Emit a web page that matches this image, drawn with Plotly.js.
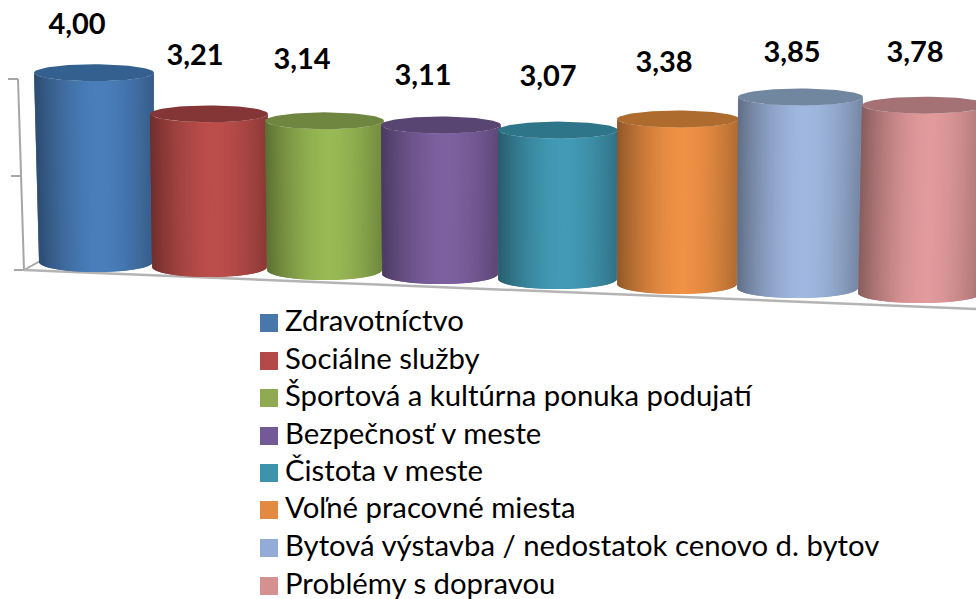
<!DOCTYPE html>
<html><head><meta charset="utf-8">
<script src="https://cdn.plot.ly/plotly-3.0.1.min.js"></script>
<style>html,body{margin:0;padding:0;background:#fff;overflow:hidden}</style>
</head><body><div id="chart" style="width:976px;height:599px"></div>
<script>
const categories = ["Zdravotníctvo","Sociálne služby","Športová a kultúrna ponuka podujatí","Bezpečnosť v meste","Čistota v meste","Voľné pracovné miesta","Bytová výstavba / nedostatok cenovo d. bytov","Problémy s dopravou"];
const values = [4.00,3.21,3.14,3.11,3.07,3.38,3.85,3.78];
const bodyColors = [[74,126,187],[188,77,74],[152,185,84],[125,96,160],[66,155,182],[240,145,68],[160,184,224],[226,154,156]];
const capColors = ["#33608f","#843535","#6e8640","#594571","#2f7589","#ad6b2d","#71869f","#a47274"];
const swatchColors = ["#4777ab","#b34a47","#8faa52","#735a96","#3d93ab","#e28a42","#92acd7","#d5918f"];

// perspective geometry (pixels on the 976x599 page)
const topLeft = [34,150,265,381,498,617,738,862];
const topRight = [154,268,384,501,618,739,863,988];
const botLeft = [39,152,267,382,498,617,737,858];
const botRight = [153,267,382,498,617,737,858,982];
const baseMid = [262,267,270,274,279,284,288,293];
const unitPx = [47.3,47.7,47.5,47.9,48.5,48.8,49.6,49.7];
const labelX = [77,195,302,423,548,664,792,915];
const labelY = [27,58,62,78,79,65,55,55];
const legendY = [323,361,398,436,473,510,548,586];

const PX = 48, ZERO = 262;
const Y = p => (ZERO - p) / PX;
const STRIPS = 60, CAP_RY = 8.5, BASE_RY = 10;

function shade(t){
  const d = t - 0.08;
  return d < 0 ? 1 - 0.40 * Math.pow(-d / 1.08, 1.7) : 1 - 0.27 * Math.pow(d / 0.92, 1.7);
}
const rgb = (c,k) => `rgb(${c.map(v => Math.round(v * k)).join(",")})`;

const traces = [];
const axisColor = "#a6a6a6";
function line(xs, ys, w, col){
  traces.push({type:"scatter",mode:"lines",x:xs,y:ys.map(Y),line:{color:col||axisColor,width:w||2},hoverinfo:"skip",showlegend:false});
}
line([18,24],[79,270]);
line([8,18],[79,79]);
line([11,22],[176,176]);
line([14,24],[270,270]);
line([24,42],[270,260]);
line([24,976],[270,309],2.5,"#b4b4b4");

values.forEach((v,i) => {
  const topMid = baseMid[i] - v * unitPx[i];
  const cT = (topLeft[i]+topRight[i])/2, hT = (topRight[i]-topLeft[i])/2;
  const cB = (botLeft[i]+botRight[i])/2, hB = (botRight[i]-botLeft[i])/2;
  for (let s=0; s<STRIPS; s++){
    // each strip runs on under the next one, so no seams show between them
    const t1 = -Math.cos(Math.PI*s/STRIPS), mid = -Math.cos(Math.PI*(s+0.5)/STRIPS), t2 = -Math.cos(Math.PI*Math.min(s+2,STRIPS)/STRIPS);
    const a1 = Math.sqrt(Math.max(0,1-t1*t1)), a2 = Math.sqrt(Math.max(0,1-t2*t2));
    const col = rgb(bodyColors[i], shade(mid));
    traces.push({type:"scatter",mode:"lines",fill:"toself",fillcolor:col,
      x:[cT+t1*hT,cT+t2*hT,cB+t2*hB,cB+t1*hB,cT+t1*hT],
      y:[topMid+CAP_RY*a1,topMid+CAP_RY*a2,baseMid[i]+BASE_RY*a2,baseMid[i]+BASE_RY*a1,topMid+CAP_RY*a1].map(Y),
      line:{color:col,width:0},hoverinfo:"skip",showlegend:false});
  }
  const ex=[],ey=[];
  for (let a=0;a<=72;a++){
    const th=a/72*2*Math.PI;
    ex.push(cT+hT*Math.cos(th)); ey.push(Y(topMid+CAP_RY*Math.sin(th)));
  }
  traces.push({type:"scatter",mode:"lines",fill:"toself",fillcolor:capColors[i],x:ex,y:ey,
    line:{color:capColors[i],width:0},hoverinfo:"skip",showlegend:false});
});

traces.push({type:"scatter",mode:"text",x:labelX,y:labelY.map(Y),
  text:values.map(v => "<b>"+v.toFixed(2).replace(".",",")+"</b>"),
  textposition:"middle center",textfont:{family:"Lato, sans-serif",size:29,color:"#000"},
  hoverinfo:"skip",showlegend:false});

// legend
traces.push({type:"scatter",mode:"markers",x:categories.map(()=>269),y:legendY.map(Y),
  marker:{symbol:"square",size:18,color:swatchColors,line:{width:0}},
  hoverinfo:"skip",showlegend:false,cliponaxis:false});
traces.push({type:"scatter",mode:"text",x:categories.map(()=>285),y:legendY.map(p=>Y(p+1)),
  text:categories,textposition:"middle right",
  textfont:{family:"Lato, sans-serif",size:29.3,color:"#000"},
  hoverinfo:"skip",showlegend:false,cliponaxis:false});

Plotly.newPlot("chart",traces,{
  width:976,height:599,margin:{l:0,r:0,t:0,b:0},
  paper_bgcolor:"#fff",plot_bgcolor:"#fff",showlegend:false,
  xaxis:{range:[0,976],visible:false,fixedrange:true},
  yaxis:{range:[Y(599),Y(0)],visible:false,fixedrange:true}
},{displayModeBar:false,staticPlot:true});
</script></body></html>
